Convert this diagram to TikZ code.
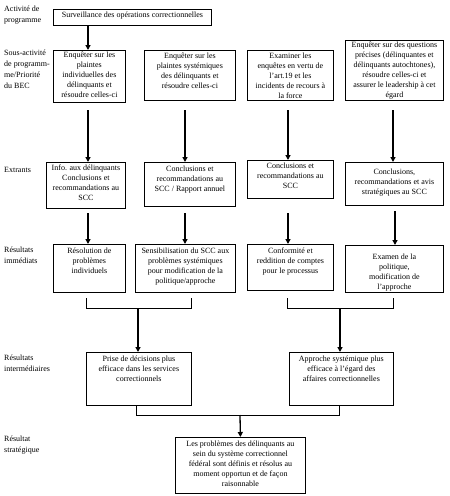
\documentclass[tikz,border=0pt]{standalone}
\usepackage{fontspec}
\setmainfont{Liberation Serif}
\usetikzlibrary{arrows.meta}
\newcommand\bx[7]{%
  \node[box, minimum width=#4pt, minimum height=#5pt] (#1) at (#2,#3)
  {\parbox[c][\dimexpr#5pt-1pt\relax][t]{\dimexpr#4pt-4pt\relax}{\centering\vspace*{#6pt}#7\par}};}
\begin{document}
\begin{tikzpicture}[x=1pt,y=-1pt,
  box/.style={draw, line width=0.8pt, inner sep=0pt, anchor=north west,
    font=\fontsize{8}{10}\selectfont},
  lbl/.style={anchor=north west, inner sep=0pt, align=left,
    font=\fontsize{8}{11}\selectfont},
  arr/.style={line width=1.3pt, -{Triangle[length=5pt,width=5pt]}},
  brk/.style={line width=0.8pt}]
\useasboundingbox (0,0) rectangle (450,496);

% left labels
\node[lbl] (l1) at (4,6) {Activité de\\programme};
\node[lbl] (l2) at (4,50) {Sous-activité\\de programm-\\me/Priorité\\du BEC};
\node[lbl] (l3) at (4,167) {Extrants};
\node[lbl] (l4) at (4,247) {Résultats\\immédiats};
\node[lbl] (l5) at (4,355) {Résultats\\intermédiaires};
\node[lbl] (l6) at (4,436) {Résultat\\stratégique};

% top
\bx{top}{53}{9}{158}{16}{2}{Surveillance des opérations correctionnelles}

% row 2
\bx{ra}{53}{50}{72}{52}{1}{Enquêter sur les\\plaintes\\individuelles des\\délinquants et\\résoudre celles-ci}
\bx{rb}{144}{50}{91}{50}{2}{Enquêter sur les\\plaintes systémiques\\des délinquants et\\résoudre celles-ci}
\bx{rc}{247}{50}{86}{50}{2}{Examiner les\\enquêtes en vertu de\\l’art.19 et les\\incidents de recours à\\la force}
\bx{rd}{345}{40}{98}{60}{1.5}{Enquêter sur des questions\\précises (délinquantes et\\délinquants autochtones),\\résoudre celles-ci et\\assurer le leadership à cet\\égard}

% row 3
\bx{xa}{46}{162}{79}{46}{2}{Info. aux délinquants\\Conclusions et\\recommandations au\\SCC}
\bx{xb}{144}{162}{91}{44}{3}{Conclusions et\\recommandations au\\SCC / Rapport annuel}
\bx{xc}{247}{160}{86}{38}{2}{Conclusions et\\recommandations au\\SCC}
\bx{xd}{345}{162}{98}{43}{6}{Conclusions,\\recommandations et avis\\stratégiques au SCC}

% row 4
\bx{ia}{53}{244}{72}{48}{3}{Résolution de\\problèmes\\individuels}
\bx{ib}{135}{244}{100}{48}{3}{Sensibilisation du SCC aux\\problèmes systémiques\\pour  modification de la\\politique/approche}
\bx{ic}{247}{244}{86}{46}{3}{Conformité et\\reddition de comptes\\pour le processus}
\bx{id}{345}{245}{98}{47}{8}{Examen de la\\politique,\\modification de\\l’approche}

% row 5
\bx{ma}{86}{352}{105}{53}{3}{Prise de décisions plus\\efficace dans les services\\correctionnels}
\bx{mb}{289}{352}{104}{53}{3}{Approche systémique plus\\efficace à l’égard des\\affaires correctionnelles}

% final
\bx{fin}{175}{437}{130}{56}{3}{Les problèmes des délinquants au\\sein du système correctionnel\\fédéral sont définis et résolus au\\moment opportun et de façon\\raisonnable}

% arrows
\draw[arr] (top.south -| 88,0) -- (88,0 |- ra.north);
\draw[arr] (88,110) -- (88,0 |- xa.north);
\draw[arr] (185,110) -- (185,0 |- xb.north);
\draw[arr] (288,110) -- (288,0 |- xc.north);
\draw[arr] (393,110) -- (393,0 |- xd.north);

\draw[arr] (88,213) -- (88,0 |- ia.north);
\draw[arr] (185,213) -- (185,0 |- ib.north);
\draw[arr] (288,213) -- (288,0 |- ic.north);
\draw[arr] (395,211) -- (395,0 |- id.north);

% brackets
\coordinate (bl) at (138,308);
\coordinate (br) at (340,308);
\draw[brk] (86,298) -- (86,308) -- (191,308) -- (191,298);
\draw[brk] (287,298) -- (287,308) -- (393,308) -- (393,298);
\draw[arr] (bl) -- (bl |- ma.north);
\draw[arr] (br) -- (br |- mb.north);

\coordinate (bb) at (240,415);
\draw[brk] (ma.south -| 136,0) -- (136,415) -- (339,415) -- (mb.south -| 339,0);
\draw[arr] (bb) -- (fin.north);
\end{tikzpicture}
\end{document}
